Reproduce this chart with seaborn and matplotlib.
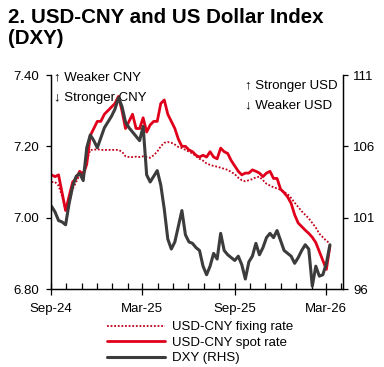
import pandas as pd
import seaborn as sns
import matplotlib.pyplot as plt
import matplotlib.dates as mdates

# weekly readings, Sep-2024 .. Mar-2026
weeks = pd.date_range('2024-09-02', periods=80, freq='7D')

spot = [7.12, 7.115, 7.12, 7.07, 7.02, 7.06, 7.10, 7.11, 7.13, 7.12,
        7.15, 7.23, 7.25, 7.27, 7.27, 7.29, 7.30, 7.31, 7.32, 7.34,
        7.30, 7.25, 7.27, 7.29, 7.25, 7.25, 7.28, 7.24, 7.26, 7.27,
        7.27, 7.32, 7.33, 7.29, 7.27, 7.25, 7.22, 7.20, 7.20, 7.19,
        7.185, 7.175, 7.17, 7.175, 7.17, 7.185, 7.17, 7.165, 7.195, 7.185,
        7.18, 7.16, 7.145, 7.13, 7.12, 7.125, 7.125, 7.134, 7.13, 7.125,
        7.115, 7.125, 7.13, 7.11, 7.11, 7.08, 7.07, 7.058, 7.04, 7.008,
        6.985, 6.975, 6.965, 6.956, 6.945, 6.93, 6.905, 6.88, 6.855, 6.92]

fixing = [7.10, 7.10, 7.09, 7.06, 7.02, 7.04, 7.08, 7.10, 7.12, 7.13,
          7.16, 7.19, 7.19, 7.192, 7.19, 7.19, 7.19, 7.19, 7.19, 7.19,
          7.185, 7.172, 7.17, 7.17, 7.171, 7.17, 7.172, 7.17, 7.168, 7.175,
          7.185, 7.20, 7.21, 7.212, 7.21, 7.205, 7.198, 7.195, 7.19, 7.185,
          7.18, 7.172, 7.165, 7.16, 7.152, 7.148, 7.145, 7.143, 7.14, 7.137,
          7.134, 7.128, 7.122, 7.112, 7.105, 7.102, 7.105, 7.108, 7.113, 7.115,
          7.105, 7.095, 7.09, 7.085, 7.082, 7.078, 7.072, 7.066, 7.055, 7.042,
          7.03, 7.018, 7.008, 6.998, 6.985, 6.972, 6.955, 6.945, 6.935, 6.928]

dxy = [101.8, 101.4, 100.8, 100.7, 100.5, 102.0, 103.2, 103.9, 104.1, 103.6,
       105.9, 106.8, 106.4, 105.9, 106.6, 107.3, 107.7, 108.1, 108.6, 109.4,
       108.8, 107.7, 107.3, 107.0, 106.7, 106.4, 107.4, 104.0, 103.5, 103.9,
       104.3, 103.3, 101.6, 99.5, 98.8, 99.3, 100.4, 101.5, 99.8, 99.3,
       99.2, 98.9, 98.7, 97.6, 97.0, 97.6, 98.5, 98.1, 99.9, 98.7,
       98.4, 98.2, 98.0, 98.3, 97.7, 96.7, 97.9, 98.3, 99.2, 98.4,
       98.9, 99.6, 99.9, 99.6, 100.1, 99.4, 98.7, 98.5, 98.3, 97.8,
       98.2, 98.7, 99.1, 98.8, 96.2, 97.6, 96.9, 97.0, 97.8, 99.1]

left_ticks = [6.80, 7.00, 7.20, 7.40]
right_ticks = [96, 101, 106, 111]

df = pd.DataFrame({'date': weeks, 'spot': spot, 'fixing': fixing, 'dxy': dxy})

sns.set_style('ticks')
plt.rcParams['font.family'] = ['Liberation Sans', 'DejaVu Sans']
plt.rcParams['text.color'] = 'black'
plt.rcParams['xtick.color'] = 'black'
plt.rcParams['ytick.color'] = 'black'

fig = plt.figure(figsize=(3.84, 3.67), dpi=100)
ax = fig.add_axes([51 / 384, 1 - 289 / 367, 292 / 384, 214 / 367])

sns.lineplot(data=df, x='date', y='fixing', ax=ax, color='#c00018', lw=1.3,
             linestyle=(0, (1, 1)), label='USD-CNY fixing rate', legend=False)
sns.lineplot(data=df, x='date', y='spot', ax=ax, color='#e0001b', lw=2.0,
             label='USD-CNY spot rate', legend=False)

ax2 = ax.twinx()
sns.lineplot(data=df, x='date', y='dxy', ax=ax2, color='#3c3c3c', lw=2.2,
             label='DXY (RHS)', legend=False)

ax.set_ylim(6.80, 7.40)
ax.set_yticks(left_ticks)
ax.set_yticklabels([f'{v:.2f}' for v in left_ticks])
ax2.set_ylim(96, 111)
ax2.set_yticks(right_ticks)
for a in (ax, ax2):
    a.set_xlabel('')
    a.set_ylabel('')
    a.spines['top'].set_visible(False)
    for s in a.spines.values():
        s.set_color('black')
        s.set_linewidth(0.9)

ax.set_xlim(pd.Timestamp('2024-09-01'), pd.Timestamp('2026-04-04'))
ax.xaxis.set_major_locator(mdates.MonthLocator(bymonth=[3, 9]))
ax.xaxis.set_minor_locator(mdates.MonthLocator())
ax.xaxis.set_major_formatter(mdates.DateFormatter('%b-%y'))
ax.tick_params(axis='x', which='major', direction='inout', length=9, width=0.9,
               labelsize=9.5, pad=5.5)
ax.tick_params(axis='x', which='minor', direction='in', length=4.5, width=0.9)
ax.tick_params(axis='y', length=3.6, width=0.9, labelsize=9.5, pad=4.8)
ax2.tick_params(axis='y', length=3.6, width=0.9, labelsize=9.5, pad=3.8)

kw = dict(fontsize=9.5, va='baseline', ha='left', transform=ax.transAxes)
ax.text(0.01, 0.973, '\u2191 Weaker CNY', **kw)
ax.text(0.01, 0.88, '\u2193 Stronger CNY', **kw)
ax.text(0.664, 0.933, '\u2191 Stronger USD', **kw)
ax.text(0.664, 0.844, '\u2193 Weaker USD', **kw)

fig.text(8 / 384, 1 - 8 / 367, '2. USD-CNY and US Dollar Index\n(DXY)',
         fontsize=14.8, fontweight='bold', va='top', ha='left', linespacing=1.15)

handles = ax.get_lines()[:2] + ax2.get_lines()[:1]
fig.legend(handles, [h.get_label() for h in handles], loc='upper left',
           bbox_to_anchor=(107 / 384, 1 - 321 / 367), frameon=False,
           fontsize=9.5, handlelength=4.4, handletextpad=0.5,
           labelspacing=0.25, borderpad=0, borderaxespad=0)

fig.savefig('out.png', dpi=100)
